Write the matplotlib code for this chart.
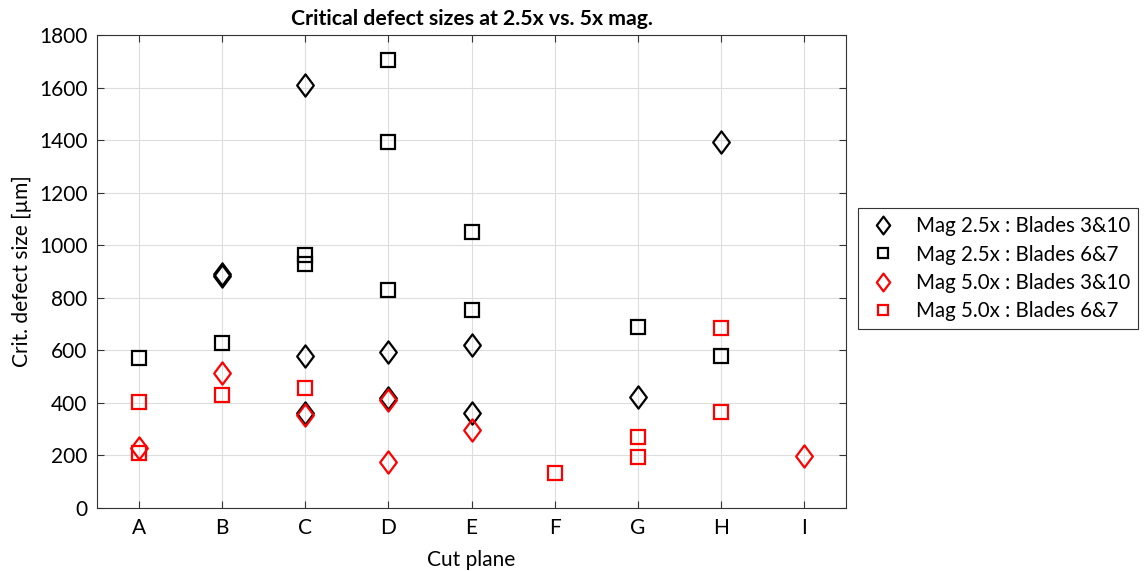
import matplotlib
matplotlib.use("Agg")
import matplotlib.pyplot as plt
from matplotlib.path import Path

plt.rcParams["font.family"] = ["Lato", "DejaVu Sans"]

planes = ["A", "B", "C", "D", "E", "F", "G", "H", "I"]

# (cut plane, size in um)
mag25_b310_x = ["B", "B", "C", "C", "C", "D", "D", "E", "E", "G", "H"]
mag25_b310_y = [892, 882, 1608, 578, 363, 593, 420, 620, 360, 421, 1393]

mag25_b67_x = ["A", "B", "C", "C", "D", "D", "D", "E", "E", "G", "H"]
mag25_b67_y = [571, 629, 963, 928, 1703, 1392, 830, 1049, 753, 688, 578]

mag50_b310_x = ["A", "B", "C", "D", "D", "E", "I"]
mag50_b310_y = [228, 515, 355, 411, 176, 297, 198]

mag50_b67_x = ["A", "A", "B", "C", "F", "G", "G", "H", "H"]
mag50_b67_y = [403, 210, 429, 455, 133, 269, 193, 684, 364]


def pos(labels):
    return [planes.index(c) + 1 for c in labels]


diamond = Path([(0, 1), (0.75, 0), (0, -1), (-0.75, 0), (0, 1)],
               [Path.MOVETO, Path.LINETO, Path.LINETO, Path.LINETO, Path.CLOSEPOLY])

fig = plt.figure(figsize=(11.47, 5.71), dpi=100)
ax = fig.add_axes([0.0846, 0.1103, 0.653, 0.8284])

kw = dict(linestyle="none", markerfacecolor="none", markeredgewidth=1.6)
ax.plot(pos(mag25_b310_x), mag25_b310_y, marker=diamond, markersize=16,
        color="black", label="Mag 2.5x : Blades 3&10", **kw)
ax.plot(pos(mag25_b67_x), mag25_b67_y, marker="s", markersize=9.5,
        color="black", label="Mag 2.5x : Blades 6&7", **kw)
ax.plot(pos(mag50_b310_x), mag50_b310_y, marker=diamond, markersize=16,
        color="red", label="Mag 5.0x : Blades 3&10", **kw)
ax.plot(pos(mag50_b67_x), mag50_b67_y, marker="s", markersize=9.5,
        color="red", label="Mag 5.0x : Blades 6&7", **kw)

ax.set_xlim(0.5, 9.5)
ax.set_ylim(0, 1800)
ax.set_xticks(range(1, 10))
ax.set_xticklabels(planes)
ax.set_yticks(range(0, 1801, 200))
ax.tick_params(labelsize=15, direction="in", top=True, right=True,
               length=5, color="#333333", pad=7)
ax.grid(True, color="#dddddd", linewidth=0.8)
ax.set_axisbelow(True)
for s in ax.spines.values():
    s.set_color("#333333")
    s.set_linewidth(0.8)

ax.set_title("Critical defect sizes at 2.5x vs. 5x mag.", fontsize=15.3,
             fontweight="bold", pad=7)
ax.set_xlabel("Cut plane", fontsize=15, labelpad=9)
ax.set_ylabel("Crit. defect size [\u00b5m]", fontsize=15, labelpad=5)

leg = ax.legend(loc="center left", bbox_to_anchor=(1.016, 0.506), fontsize=14.8,
                fancybox=False, edgecolor="#333333", framealpha=1,
                markerscale=0.8, handlelength=1.6, handletextpad=0.8,
                borderpad=0.4, labelspacing=0.4, borderaxespad=0)
leg.get_frame().set_linewidth(0.8)

fig.savefig("out.png", dpi=100)
